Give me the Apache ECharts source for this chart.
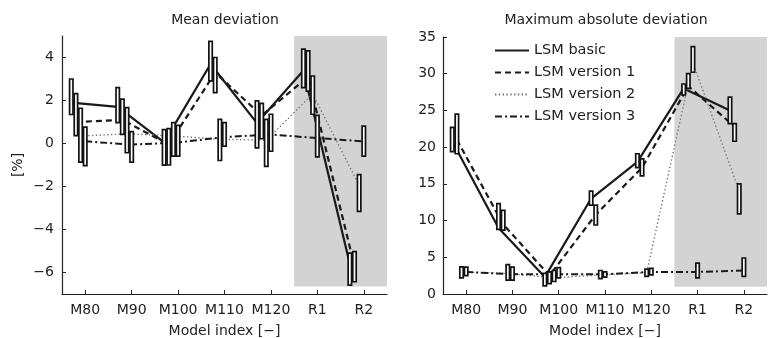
<!DOCTYPE html>
<html>
<head>
<meta charset="utf-8">
<script src="https://cdn.jsdelivr.net/npm/echarts@6/dist/echarts.min.js"></script>
<style>
  html, body { margin: 0; padding: 0; background: #fff; }
  #chart { width: 768px; height: 338px; }
</style>
</head>
<body>
<div id="chart"></div>
<script>
// Model indices on the horizontal axis
const categories = ['M80', 'M90', 'M100', 'M110', 'M120', 'R1', 'R2'];
const seriesNames = ['LSM basic', 'LSM version 1', 'LSM version 2', 'LSM version 3'];
// Horizontal shift of each method's marks relative to the model position
const offsets = [-0.3, -0.2, -0.1, 0];

// Mean deviation [%] : line values and range boxes (low / high)
const meanBasic   = [1.9, 1.7, 0.05, 3.7, 0.95, 3.4, -5.6];
const meanV1      = [1.0, 1.1, -0.05, 3.3, 1.3, 3.1, -5.7];
const meanV2      = [0.35, 0.45, 0.35, 0.2, 0.15, 2.3, -1.95];
const meanV3      = [0.1, -0.05, 0.05, 0.3, 0.42, 0.25, 0.1];
const meanBasicLo = [1.35, 0.97, -1.01, 2.91, -0.2, 2.6, -6.59];
const meanBasicHi = [3.0, 2.6, 0.65, 4.75, 1.98, 4.39, -5.1];
const meanV1Lo    = [0.37, 0.42, -1.0, 2.37, 0.22, 2.44, -6.43];
const meanV1Hi    = [2.32, 2.06, 0.69, 4.0, 1.87, 4.31, -5.03];
const meanV2Lo    = [-0.87, -0.43, -0.59, -0.79, -1.06, 1.36, -3.16];
const meanV2Hi    = [1.64, 1.67, 0.97, 1.12, 1.12, 3.14, -1.45];
const meanV3Lo    = [-1.03, -0.87, -0.59, -0.12, -0.36, -0.62, -0.59];
const meanV3Hi    = [0.76, 0.55, 0.84, 0.97, 1.36, 1.31, 0.81];

// Maximum absolute deviation [%] : line values and range boxes (low / high)
const maxBasic   = [20.8, 9.0, 2.3, 13.0, 18.0, 28.0, 25.0];
const maxV1      = [21.0, 9.5, 2.5, 10.8, 17.2, 28.3, 22.8];
const maxV2      = [3.0, 2.8, 2.2, 2.6, 2.9, 31.5, 14.0];
const maxV3      = [3.0, 2.7, 2.7, 2.7, 3.0, 3.0, 3.2];
const maxBasicLo = [19.4, 8.8, 1.1, 12.1, 17.2, 27.1, 23.2];
const maxBasicHi = [22.7, 12.3, 2.8, 14.0, 19.1, 28.6, 26.8];
const maxV1Lo    = [19.1, 8.7, 1.4, 9.4, 16.1, 28.0, 20.8];
const maxV1Hi    = [24.5, 11.4, 3.0, 12.1, 18.4, 30.0, 23.2];
const maxV2Lo    = [2.2, 1.9, 1.7, 2.1, 2.4, 30.2, 10.9];
const maxV2Hi    = [3.7, 4.0, 3.2, 3.2, 3.4, 33.7, 15.0];
const maxV3Lo    = [2.5, 1.9, 2.2, 2.3, 2.6, 2.2, 2.4];
const maxV3Hi    = [3.65, 3.65, 3.6, 3.0, 3.5, 4.2, 4.9];

// Axis ranges and tick values
const meanTicks = [-6, -4, -2, 0, 2, 4];
const meanRange = [-7, 5];
const maxRange = [0, 35];
// Shaded region covering the R models: [xFrom, xTo, yFrom, yTo]
const meanShade = [5.5, 7.5, -6.65, 5];
const maxShade = [5.5, 7.5, 1, 35];

const FONT = 'DejaVu Sans';
const INK = '#222';
const categoryPositions = categories.map((c, i) => i + 1);

const lineStyles = [
  { color: '#1a1a1a', width: 2.2, type: 'solid' },
  { color: '#1a1a1a', width: 2.2, type: [6, 4] },
  { color: '#777', width: 1.4, type: [1.4, 2.4] },
  { color: '#1a1a1a', width: 2, type: [7, 3, 2, 3] }
];

function xAxisFor(gridIndex) {
  return {
    type: 'value', gridIndex, min: 0.5, max: 7.5,
    splitLine: { show: false },
    axisLine: { show: true, onZero: false, lineStyle: { color: INK, width: 1.2 } },
    axisTick: { show: true, inside: true, length: 4, customValues: categoryPositions, lineStyle: { color: INK } },
    axisLabel: {
      customValues: categoryPositions, margin: 9, fontSize: 14, color: INK, fontFamily: FONT,
      formatter: v => categories[Math.round(v) - 1]
    },
    name: 'Model index [\u2212]', nameLocation: 'middle', nameGap: 30,
    nameTextStyle: { fontSize: 14, color: INK, fontFamily: FONT }
  };
}

function pts(values, k) {
  return values.map((v, i) => [i + 1 + offsets[k], v]);
}
function boxes(lo, hi, k) {
  return lo.map((l, i) => [i + 1 + offsets[k], l, hi[i]]);
}

function shadeSeries(region, idx) {
  return {
    type: 'custom', xAxisIndex: idx, yAxisIndex: idx, z: 0, silent: true,
    data: [region],
    renderItem: (params, api) => {
      const a = api.coord([api.value(0), api.value(3)]);
      const b = api.coord([api.value(1), api.value(2)]);
      return { type: 'rect', shape: { x: a[0], y: a[1], width: b[0] - a[0], height: b[1] - a[1] },
               style: { fill: '#d3d3d4' } };
    }
  };
}

function boxSeries(data, idx) {
  return {
    type: 'custom', xAxisIndex: idx, yAxisIndex: idx, z: 5, silent: true,
    data,
    renderItem: (params, api) => {
      const top = api.coord([api.value(0), api.value(2)]);
      const bot = api.coord([api.value(0), api.value(1)]);
      const w = 3.4;
      return { type: 'rect', shape: { x: top[0] - w / 2, y: top[1], width: w, height: bot[1] - top[1] },
               style: { fill: '#fff', stroke: '#111', lineWidth: 1.7 } };
    }
  };
}

function lineSeries(values, k, idx) {
  return {
    name: seriesNames[k], type: 'line', xAxisIndex: idx, yAxisIndex: idx, z: 2,
    data: pts(values, k), symbol: 'none', showSymbol: false, silent: true,
    lineStyle: lineStyles[k], itemStyle: { color: lineStyles[k].color }
  };
}

const meanLines = [meanBasic, meanV1, meanV2, meanV3];
const meanLo = [meanBasicLo, meanV1Lo, meanV2Lo, meanV3Lo];
const meanHi = [meanBasicHi, meanV1Hi, meanV2Hi, meanV3Hi];
const maxLines = [maxBasic, maxV1, maxV2, maxV3];
const maxLo = [maxBasicLo, maxV1Lo, maxV2Lo, maxV3Lo];
const maxHi = [maxBasicHi, maxV1Hi, maxV2Hi, maxV3Hi];

const series = [shadeSeries(meanShade, 0), shadeSeries(maxShade, 1)];
for (let k = 0; k < 4; k++) {
  series.push(lineSeries(meanLines[k], k, 0));
  series.push(lineSeries(maxLines[k], k, 1));
}
for (let k = 0; k < 4; k++) {
  series.push(boxSeries(boxes(meanLo[k], meanHi[k], k), 0));
  series.push(boxSeries(boxes(maxLo[k], maxHi[k], k), 1));
}

const chart = echarts.init(document.getElementById('chart'), null, { renderer: 'canvas' });
chart.setOption({
  animation: false,
  backgroundColor: '#fff',
  textStyle: { fontFamily: FONT },
  grid: [
    { left: 62, top: 36, width: 325, height: 258, containLabel: false, outerBoundsMode: 'none' },
    { left: 443, top: 37, width: 324, height: 257, containLabel: false, outerBoundsMode: 'none' }
  ],
  xAxis: [xAxisFor(0), xAxisFor(1)],
  yAxis: [
    {
      type: 'value', gridIndex: 0, min: meanRange[0], max: meanRange[1],
      splitLine: { show: false },
      axisLine: { show: true, onZero: false, lineStyle: { color: INK, width: 1.2 } },
      axisTick: { show: true, inside: true, length: 4, customValues: meanTicks, lineStyle: { color: INK } },
      axisLabel: { customValues: meanTicks, margin: 8, fontSize: 14, color: INK, fontFamily: FONT,
                   formatter: v => String(v).replace('-', '\u2212') },
      name: '[%]', nameLocation: 'middle', nameGap: 37, nameRotate: 90,
      nameTextStyle: { fontSize: 14, color: INK, fontFamily: FONT }
    },
    {
      type: 'value', gridIndex: 1, min: maxRange[0], max: maxRange[1], interval: 5,
      splitLine: { show: false },
      axisLine: { show: true, onZero: false, lineStyle: { color: INK, width: 1.2 } },
      axisTick: { show: true, inside: true, length: 4, lineStyle: { color: INK } },
      axisLabel: { margin: 7, fontSize: 14, color: INK, fontFamily: FONT }
    }
  ],
  legend: {
    data: seriesNames, orient: 'vertical', left: 489, top: 38,
    itemWidth: 34, itemHeight: 14, itemGap: 7, selectedMode: false,
    itemStyle: { opacity: 0 },
    textStyle: { fontSize: 14.5, color: INK, fontFamily: FONT }
  },
  graphic: [
    { type: 'text', x: 225, y: 13, silent: true,
      style: { text: 'Mean deviation', fill: INK, font: '14px "DejaVu Sans"', textAlign: 'center' } },
    { type: 'text', x: 606, y: 13, silent: true,
      style: { text: 'Maximum absolute deviation', fill: INK, font: '14px "DejaVu Sans"', textAlign: 'center' } }
  ],
  series
});
</script>
</body>
</html>
